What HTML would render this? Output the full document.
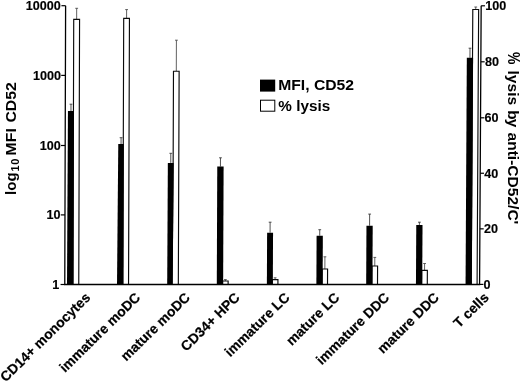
<!DOCTYPE html><html><head><meta charset="utf-8"><title>Figure</title>
<style>html,body{margin:0;padding:0;background:#fff}svg{display:block}text{font-family:"Liberation Sans",Arial,Helvetica,sans-serif;font-weight:bold;fill:#000}</style></head><body>
<svg width="520" height="382" viewBox="0 0 520 382">
<rect width="520" height="382" fill="#fff"/>
<path d="M70.97 111.10L70.99 104.20M69.59 104.20h2.8" stroke="#333" stroke-width="0.85" fill="none"/>
<path d="M76.65 19.30L76.68 8.30M75.28 8.30h2.8" stroke="#444" stroke-width="0.85" fill="none"/>
<path d="M72.91 284.50L73.44 111.10L73.72 19.30L79.57 19.30L78.75 284.50" fill="#fff" stroke="#0a0a0a" stroke-width="1.15" stroke-linejoin="miter"/>
<path d="M67.00 284.50L67.94 111.10L73.99 111.10L73.46 284.50Z" fill="#000"/>
<path d="M121.05 144.00L121.07 137.70M119.67 137.70h2.8" stroke="#333" stroke-width="0.85" fill="none"/>
<path d="M126.58 18.40L126.61 9.60M125.21 9.60h2.8" stroke="#444" stroke-width="0.85" fill="none"/>
<path d="M122.80 284.50L123.28 144.00L123.70 18.40L129.45 18.40L128.54 284.50" fill="#fff" stroke="#0a0a0a" stroke-width="1.15" stroke-linejoin="miter"/>
<path d="M117.01 284.50L118.28 144.00L123.83 144.00L123.35 284.50Z" fill="#000"/>
<path d="M170.77 162.90L170.81 153.30M169.41 153.30h2.8" stroke="#333" stroke-width="0.85" fill="none"/>
<path d="M176.31 71.20L176.42 40.20M175.02 40.20h2.8" stroke="#444" stroke-width="0.85" fill="none"/>
<path d="M172.09 284.50L173.14 162.90L173.48 71.20L179.13 71.20L178.33 284.50" fill="#fff" stroke="#0a0a0a" stroke-width="1.15" stroke-linejoin="miter"/>
<path d="M167.20 284.50L167.85 162.90L173.69 162.90L172.64 284.50Z" fill="#000"/>
<path d="M220.44 166.60L220.47 157.80M219.07 157.80h2.8" stroke="#333" stroke-width="0.85" fill="none"/>
<path d="M225.37 281.00L225.37 279.60M223.97 279.60h2.8" stroke="#444" stroke-width="0.85" fill="none"/>
<path d="M222.58 284.50L222.60 281.00L222.60 281.00L228.14 281.00L228.12 284.50" fill="#fff" stroke="#0a0a0a" stroke-width="1.15" stroke-linejoin="miter"/>
<path d="M216.79 284.50L217.26 166.60L223.61 166.60L223.13 284.50Z" fill="#000"/>
<path d="M270.08 232.70L270.12 222.20M268.72 222.20h2.8" stroke="#333" stroke-width="0.85" fill="none"/>
<path d="M275.12 279.60L275.12 277.80M273.72 277.80h2.8" stroke="#444" stroke-width="0.85" fill="none"/>
<path d="M272.28 284.50L272.30 279.60L272.30 279.60L277.94 279.60L277.92 284.50" fill="#fff" stroke="#0a0a0a" stroke-width="1.15" stroke-linejoin="miter"/>
<path d="M266.88 284.50L267.11 232.70L273.05 232.70L272.82 284.50Z" fill="#000"/>
<path d="M319.72 235.70L319.75 229.70M318.35 229.70h2.8" stroke="#333" stroke-width="0.85" fill="none"/>
<path d="M324.86 269.00L324.92 256.80M323.52 256.80h2.8" stroke="#444" stroke-width="0.85" fill="none"/>
<path d="M322.07 284.50L322.14 269.00L322.14 269.00L327.58 269.00L327.51 284.50" fill="#fff" stroke="#0a0a0a" stroke-width="1.15" stroke-linejoin="miter"/>
<path d="M316.38 284.50L316.60 235.70L322.84 235.70L322.62 284.50Z" fill="#000"/>
<path d="M369.58 225.70L369.64 214.10M368.24 214.10h2.8" stroke="#333" stroke-width="0.85" fill="none"/>
<path d="M374.77 266.00L374.81 257.40M373.41 257.40h2.8" stroke="#444" stroke-width="0.85" fill="none"/>
<path d="M371.86 284.50L371.95 266.00L371.95 266.00L377.59 266.00L377.50 284.50" fill="#fff" stroke="#0a0a0a" stroke-width="1.15" stroke-linejoin="miter"/>
<path d="M366.17 284.50L366.46 225.70L372.70 225.70L372.41 284.50Z" fill="#000"/>
<path d="M419.39 224.90L419.41 222.20M418.01 222.20h2.8" stroke="#333" stroke-width="0.85" fill="none"/>
<path d="M424.55 270.30L424.58 263.50M423.18 263.50h2.8" stroke="#444" stroke-width="0.85" fill="none"/>
<path d="M421.65 284.50L421.72 270.30L421.72 270.30L427.37 270.30L427.29 284.50" fill="#fff" stroke="#0a0a0a" stroke-width="1.15" stroke-linejoin="miter"/>
<path d="M415.96 284.50L416.27 224.90L422.52 224.90L422.20 284.50Z" fill="#000"/>
<path d="M469.95 57.80L470.00 48.20M468.60 48.20h2.8" stroke="#333" stroke-width="0.85" fill="none"/>
<path d="M475.72 9.50L475.73 7.00M474.33 7.00h2.8" stroke="#444" stroke-width="0.85" fill="none"/>
<path d="M471.24 284.50L472.52 57.80L472.79 9.50L478.64 9.50L477.08 284.50" fill="#fff" stroke="#0a0a0a" stroke-width="1.15" stroke-linejoin="miter"/>
<path d="M465.55 284.50L466.82 57.80L473.07 57.80L471.79 284.50Z" fill="#000"/>
<path d="M65.61 5.70L64.77 284.50L479.58 284.50L481.17 5.80" stroke="#000" stroke-width="1.3" fill="none"/>
<path d="M60.57 284.50H64.77" stroke="#000" stroke-width="1.2"/>
<text x="59.33" y="288.95" font-size="12.6" text-anchor="end" stroke="#000" stroke-width="0.15">1</text>
<path d="M60.78 214.90H64.98" stroke="#000" stroke-width="1.2"/>
<text x="60.64" y="219.35" font-size="12.6" text-anchor="end" stroke="#000" stroke-width="0.15">10</text>
<path d="M60.99 145.50H65.19" stroke="#000" stroke-width="1.2"/>
<text x="60.84" y="149.95" font-size="12.6" text-anchor="end" stroke="#000" stroke-width="0.15">100</text>
<path d="M61.20 75.40H65.40" stroke="#000" stroke-width="1.2"/>
<text x="61.05" y="79.85" font-size="12.6" text-anchor="end" stroke="#000" stroke-width="0.15">1000</text>
<path d="M61.41 5.70H65.61" stroke="#000" stroke-width="1.2"/>
<text x="60.66" y="10.15" font-size="12.6" text-anchor="end" stroke="#000" stroke-width="0.15">10000</text>
<path d="M479.58 284.40H483.38" stroke="#000" stroke-width="1.2"/>
<text x="483.62" y="288.85" font-size="12.6" stroke="#000" stroke-width="0.15">0</text>
<path d="M479.89 228.85H483.69" stroke="#000" stroke-width="1.2"/>
<text x="483.94" y="233.30" font-size="12.6" stroke="#000" stroke-width="0.15">20</text>
<path d="M480.21 173.25H484.01" stroke="#000" stroke-width="1.2"/>
<text x="484.26" y="177.70" font-size="12.6" stroke="#000" stroke-width="0.15">40</text>
<path d="M480.53 117.80H484.33" stroke="#000" stroke-width="1.2"/>
<text x="484.57" y="122.25" font-size="12.6" stroke="#000" stroke-width="0.15">60</text>
<path d="M480.85 61.80H484.65" stroke="#000" stroke-width="1.2"/>
<text x="484.89" y="66.25" font-size="12.6" stroke="#000" stroke-width="0.15">80</text>
<path d="M481.17 5.80H484.97" stroke="#000" stroke-width="1.2"/>
<text x="485.22" y="10.25" font-size="12.6" stroke="#000" stroke-width="0.15">100</text>
<g transform="translate(15.8 194.9) rotate(-90)">
<text x="0" y="0" font-size="15">log</text>
<text x="23.3" y="3.5" font-size="11" letter-spacing="0.7">10</text>
<text transform="translate(39.5 0) scale(1 0.96)" font-size="15.8">MFI</text>
<text transform="translate(72.3 0) scale(1 0.96)" font-size="15.8">CD52</text>
</g>
<g transform="translate(507.8 0) rotate(90)" font-size="15.5">
<text transform="translate(52.1 0.2) scale(0.9 1.12)">%</text>
<text x="70.4" textLength="34.8" lengthAdjust="spacing">lysis</text>
<text x="110.2" textLength="17.2" lengthAdjust="spacing">by</text>
<text x="132.5" textLength="91.8" lengthAdjust="spacing">anti-CD52/C'</text>
</g>
<rect x="260" y="79.6" width="15.2" height="12" fill="#000"/>
<rect x="260.5" y="100.2" width="14.3" height="11" fill="#fff" stroke="#000" stroke-width="1"/>
<text transform="translate(278.2 90.3) scale(1 0.96)" font-size="15.7">MFI, CD52</text>
<text x="278.3" y="110.7" font-size="15.3">% lysis</text>
<text transform="translate(91.3 298.4) rotate(-44.5)" font-size="13.8" text-anchor="end" stroke="#000" stroke-width="0.2">CD14+ monocytes</text>
<text transform="translate(141.1 298.4) rotate(-44.5)" font-size="13.8" text-anchor="end" stroke="#000" stroke-width="0.2">immature moDC</text>
<text transform="translate(190.9 298.4) rotate(-44.5)" font-size="13.8" text-anchor="end" stroke="#000" stroke-width="0.2">mature moDC</text>
<text transform="translate(240.7 298.4) rotate(-44.5)" font-size="13.8" text-anchor="end" stroke="#000" stroke-width="0.2">CD34+ HPC</text>
<text transform="translate(290.5 298.4) rotate(-44.5)" font-size="13.8" text-anchor="end" stroke="#000" stroke-width="0.2">immature LC</text>
<text transform="translate(340.3 298.4) rotate(-44.5)" font-size="13.8" text-anchor="end" stroke="#000" stroke-width="0.2">mature LC</text>
<text transform="translate(390.1 298.4) rotate(-44.5)" font-size="13.8" text-anchor="end" stroke="#000" stroke-width="0.2">immature DDC</text>
<text transform="translate(439.9 298.4) rotate(-44.5)" font-size="13.8" text-anchor="end" stroke="#000" stroke-width="0.2">mature DDC</text>
<text transform="translate(489.7 298.4) rotate(-44.5)" font-size="13.8" text-anchor="end" stroke="#000" stroke-width="0.2">T cells</text>
</svg></body></html>
